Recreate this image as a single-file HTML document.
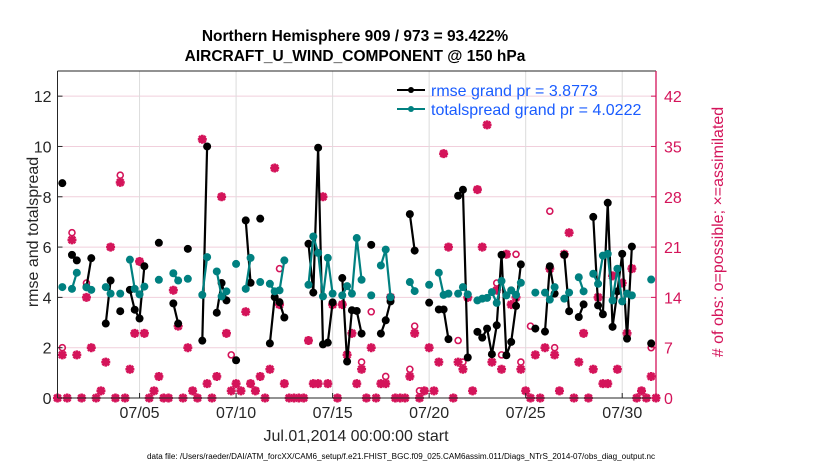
<!DOCTYPE html>
<html><head><meta charset="utf-8"><style>
body{margin:0;background:#fff;}
svg{display:block;font-family:"Liberation Sans",sans-serif;}
</style></head><body>
<svg id="chart" width="830" height="470" viewBox="0 0 830 470">
<text x="355" y="41" text-anchor="middle" font-size="15.5" font-weight="bold" fill="#000">Northern Hemisphere 909 / 973 = 93.422%</text>
<text x="355" y="61" text-anchor="middle" font-size="15.5" font-weight="bold" fill="#000">AIRCRAFT_U_WIND_COMPONENT @ 150 hPa</text>
<g id="grid"></g>
<g id="series"></g>
<g id="axes"></g>
<g>
<line x1="397" y1="90" x2="425" y2="90" stroke="#000" stroke-width="2"/>
<circle cx="411" cy="90" r="3" fill="#000"/>
<text x="431" y="96" font-size="16" fill="#1a5cff">rmse grand pr = 3.8773</text>
<line x1="397" y1="109" x2="425" y2="109" stroke="#008080" stroke-width="2"/>
<circle cx="411" cy="109" r="3" fill="#008080"/>
<text x="431" y="115" font-size="16" fill="#1a5cff">totalspread grand pr = 4.0222</text>
</g>
<text transform="translate(38,232) rotate(-90)" text-anchor="middle" font-size="16" fill="#262626">rmse and totalspread</text>
<text transform="translate(723,232) rotate(-90)" text-anchor="middle" font-size="16" fill="#d4145a"># of obs: o=possible; ×=assimilated</text>
<text x="356" y="441" text-anchor="middle" font-size="16" fill="#262626">Jul.01,2014 00:00:00 start</text>
<text x="401" y="459" text-anchor="middle" font-size="8" fill="#000" textLength="508" lengthAdjust="spacingAndGlyphs">data file: /Users/raeder/DAI/ATM_forcXX/CAM6_setup/f.e21.FHIST_BGC.f09_025.CAM6assim.011/Diags_NTrS_2014-07/obs_diag_output.nc</text>
</svg>
<script>
const N = NaN;
// index = 6-hourly step since Jul 1 00:00
const rmseIdx = [0,2,3,5,6,9,10,12,14,15,16,17,20,23,24,26,29,30,32,33,34,36,38,39,41,43,44,45,46,51,52,53,54,55,56,58,59,60,61,62,64,66,67,68,72,73,76,78,79,80,82,83,84,86,87,88,89,90,91,92,93,94,95,98,100,101,102,104,105,107,108,110,111,112,113,114,115,116,117,118,122];
const rmseVal = [8.54,5.69,5.47,4.41,5.56,2.96,4.67,3.45,4.3,3.51,3.16,5.24,6.17,3.76,2.96,5.93,2.28,10.0,3.39,4.57,3.88,1.5,7.06,4.58,7.13,2.17,4.01,3.81,3.2,6.13,4.19,9.95,2.13,2.2,3.8,4.77,1.45,3.49,3.46,2.56,6.09,2.56,3.09,3.84,7.31,5.86,3.79,3.52,3.52,2.34,8.04,8.28,1.61,2.63,2.4,2.76,1.74,2.89,5.69,1.7,2.23,3.66,5.31,2.76,2.64,5.24,4.15,5.69,3.45,3.22,3.72,7.2,3.68,3.33,7.76,2.83,4.24,5.73,2.36,6.02,2.17];
const spreadIdx = [0,2,3,5,6,9,10,12,14,15,16,17,20,23,24,26,29,30,32,33,34,36,38,39,41,43,44,45,46,51,52,53,54,55,56,58,59,60,61,62,64,66,67,68,72,73,76,78,79,80,82,83,84,86,87,88,89,90,91,92,93,94,95,98,100,101,102,104,105,107,108,110,111,112,113,114,115,116,117,118,122];
const spreadVal = [4.41,4.34,4.98,4.4,4.3,4.41,4.15,4.15,5.5,4.34,4.12,4.43,4.7,4.96,4.67,4.74,4.1,5.6,5.03,4.04,4.24,5.33,4.34,5.57,4.61,4.54,4.24,4.28,5.47,4.5,6.42,5.77,4.04,5.57,4.15,4.08,4.45,4.15,6.36,4.7,4.08,5.27,5.9,4.01,4.61,4.25,4.5,4.98,4.1,4.15,4.15,4.41,4.12,3.88,3.95,3.98,4.21,3.78,4.65,4.08,4.28,4.1,4.58,4.19,4.19,3.91,4.41,3.95,4.19,4.8,4.24,4.94,4.54,5.66,5.73,3.88,5.14,3.84,4.15,4.08,4.71];
// obs counts, index -1 .. 123
const nPossible = [0,7,0,23,6,0,16,7,0,1,5,21,0,31,0,4,9,19,9,0,1,3,0,0,15,10,0,7,1,0,36,2,0,3,28,9,6,2,1,12,2,1,3,0,4,32,18,2,0,0,0,0,8,2,2,28,2,13,0,13,6,9,2,5,0,12,0,2,3,14,0,0,0,4,10,1,1,7,1,5,34,21,0,8,5,14,1,29,21,38,5,16,6,20,15,20,5,1,10,6,0,7,26,7,1,20,23,0,5,9,0,4,14,2,2,17,4,16,9,18,0,1,0,7,0];
const nAssim    = [0,6,0,22,6,0,14,7,0,1,5,21,0,30,0,4,9,19,9,0,1,3,0,0,15,10,0,7,1,0,36,2,0,3,28,9,1,2,1,12,2,1,3,0,4,32,13,2,0,0,0,0,8,2,2,28,2,13,0,13,6,9,2,4,0,7,0,2,2,14,0,0,0,3,9,0,1,7,1,5,34,21,0,5,4,14,1,29,21,38,5,15,4,20,13,14,4,1,0,6,0,7,18,6,1,20,23,0,5,9,0,4,14,2,2,17,4,16,9,18,0,1,0,3,0];
const leftTicks = [0,2,4,6,8,10,12];
const rightTicks = [0,7,14,21,28,35,42];
const dayTicks = [4,9,14,19,24,29];
const dayLabels = ['07/05','07/10','07/15','07/20','07/25','07/30'];

const X0=57.5, X1=656, Y0=398, Y1=71;
const IMIN=-1, IMAX=123, LMAX=13, RMAX=45.5;
const PINK='#d4145a', TEAL='#008080';
const xs = i => X0 + (i-IMIN)*(X1-X0)/(IMAX-IMIN);
const yl = v => Y0 - v*(Y0-Y1)/LMAX;
const yr = c => Y0 - c*(Y0-Y1)/RMAX;
const NS='http://www.w3.org/2000/svg';
function mk(tag, attrs, parent){const e=document.createElementNS(NS,tag);for(const k in attrs)e.setAttribute(k,attrs[k]);parent.appendChild(e);return e;}
const grid=document.getElementById('grid'), ser=document.getElementById('series'), axes=document.getElementById('axes');

leftTicks.forEach(v=>{
  const g=mk('line',{x1:X0,x2:X1,y1:yl(v),y2:yl(v),stroke:'#f1cfdc','stroke-width':1},grid);
  
  
});
dayTicks.forEach(d=>{
  const x=xs(d*4);
  const g=mk('line',{x1:x,x2:x,y1:Y1,y2:Y0,stroke:'#dcdcdc','stroke-width':1},grid);
  
  
});

function drawSeries(idx, val, color, name){
  let seg=[];
  const segs=[];
  for(let k=0;k<idx.length;k++){
    if(k>0 && idx[k]!==idx[k-1]+1){segs.push(seg);seg=[];}
    seg.push([xs(idx[k]), yl(val[k])]);
  }
  segs.push(seg);
  segs.forEach(s=>{
    if(s.length>1){
      const p=mk('polyline',{points:s.map(q=>q.join(',')).join(' '),fill:'none',stroke:color,'stroke-width':2.2,'stroke-linejoin':'round'},ser);
      
      
    }
    s.forEach(q=>{
      const c=mk('circle',{cx:q[0],cy:q[1],r:4,fill:color},ser);
      
      
    });
  });
}

// obs counts
nPossible.forEach((c,k)=>{
  const i=k+IMIN;
  const x=xs(i);
  if(x>X1+1) return;
  const o=mk('circle',{cx:x,cy:yr(c),r:3,fill:'none',stroke:PINK,'stroke-width':1.6},ser);
  
  
});
nAssim.forEach((c,k)=>{
  const i=k+IMIN;
  const x=xs(i), y=yr(c), s=4.5, d=3.3;
  if(x>X1+1) return;
  const g=mk('path',{d:`M${x-s},${y}H${x+s}M${x},${y-s}V${y+s}M${x-d},${y-d}L${x+d},${y+d}M${x-d},${y+d}L${x+d},${y-d}`,stroke:PINK,'stroke-width':2.6,fill:'none'},ser);
  
  
});

drawSeries(rmseIdx, rmseVal, '#000', 'rmse');
drawSeries(spreadIdx, spreadVal, TEAL, 'totalspread');

// axes
let a=mk('line',{x1:X0,x2:X0,y1:Y1,y2:Y0,stroke:'#262626','stroke-width':1},axes);
 
a=mk('line',{x1:X0,x2:X1,y1:Y0,y2:Y0,stroke:'#262626','stroke-width':1},axes);
 
a=mk('line',{x1:X0,x2:X1,y1:Y1,y2:Y1,stroke:'#262626','stroke-width':1},axes);
 
a=mk('line',{x1:X1,x2:X1,y1:Y1,y2:Y0,stroke:PINK,'stroke-width':1.3},axes);
 

leftTicks.forEach(v=>{
  const t=mk('line',{x1:X0,x2:X0+5,y1:yl(v),y2:yl(v),stroke:'#262626'},axes);
   
  const l=mk('text',{x:X0-6,y:yl(v)+6,'text-anchor':'end','font-size':16,fill:'#262626'},axes);
  l.textContent=v;
   
});
rightTicks.forEach(v=>{
  const t=mk('line',{x1:X1-5,x2:X1,y1:yr(v),y2:yr(v),stroke:PINK},axes);
   
  const l=mk('text',{x:X1+8,y:yr(v)+6,'font-size':16,fill:PINK},axes);
  l.textContent=v;
   
});
dayTicks.forEach((d,k)=>{
  const x=xs(d*4);
  const t=mk('line',{x1:x,x2:x,y1:Y0-5,y2:Y0,stroke:'#262626'},axes);
   
  const l=mk('text',{x:x,y:418,'text-anchor':'middle','font-size':16,fill:'#262626'},axes);
  l.textContent=dayLabels[k];
   
});
</script>
</body></html>
